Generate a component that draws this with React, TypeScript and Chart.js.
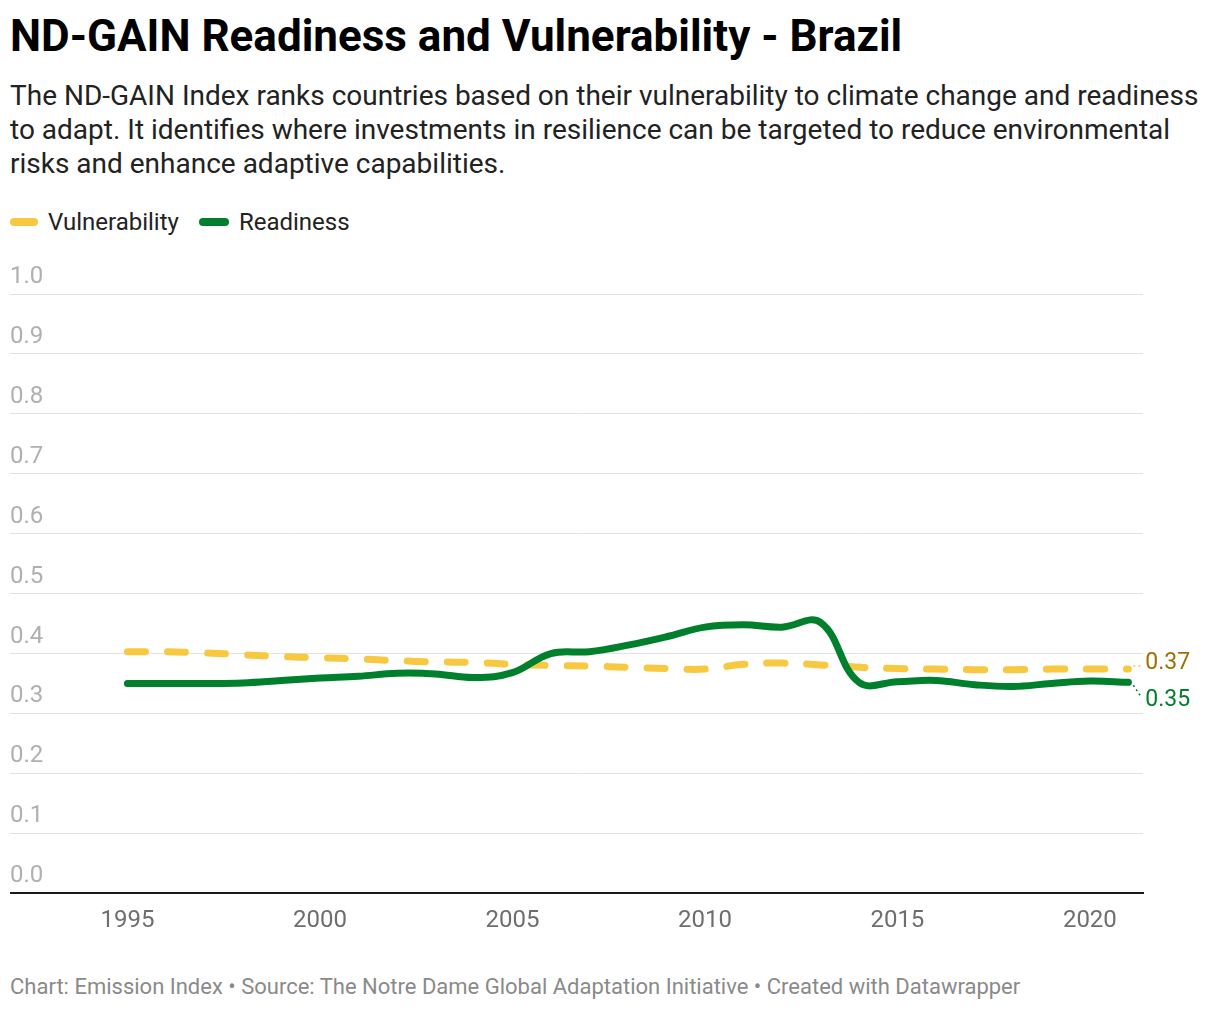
import React, { useEffect, useRef } from 'react';
import { Chart, registerables } from 'chart.js';

Chart.register(...registerables);

const years = [
    1995, 1996, 1997, 1998, 1999, 2000, 2001, 2002, 2003, 2004, 2005, 2006, 2007, 2008,
    2009, 2010, 2011, 2012, 2013, 2014, 2015, 2016, 2017, 2018, 2019, 2020, 2021,
];
const vulnerability = [
    0.403, 0.403, 0.401, 0.398, 0.395, 0.393, 0.391, 0.388, 0.386, 0.385, 0.382, 0.380, 0.379, 0.377,
    0.375, 0.374, 0.382, 0.384, 0.381, 0.377, 0.375, 0.374, 0.373, 0.373, 0.374, 0.374, 0.374,
];
const readiness = [
    0.350, 0.350, 0.350, 0.351, 0.355, 0.359, 0.362, 0.367, 0.366, 0.360, 0.368, 0.400, 0.403, 0.414,
    0.428, 0.444, 0.448, 0.444, 0.452, 0.352, 0.353, 0.355, 0.348, 0.345, 0.350, 0.354, 0.352,
];
const xTicks = [1995, 2000, 2005, 2010, 2015, 2020];

const YELLOW = '#f8c840';
const GREEN = '#007f2c';
const FONT = 'Roboto';

// value labels at the end of each line, with a little dotted connector
const endLabels = {
    id: 'endLabels',
    afterDatasetsDraw(chart: any) {
        const { ctx } = chart;
        const specs = [
            { index: 0, values: vulnerability, color: '#9c7200', line: YELLOW, shift: -6 },
            { index: 1, values: readiness, color: GREEN, line: GREEN, shift: 18 },
        ];
        ctx.save();
        specs.forEach((s) => {
            const pts = chart.getDatasetMeta(s.index).data;
            const last = pts[pts.length - 1];
            const v = s.values[s.values.length - 1];
            const lx = last.x + 17;
            const ly = last.y + s.shift;
            ctx.strokeStyle = s.line;
            ctx.lineWidth = 1.5;
            ctx.setLineDash([2, 3]);
            ctx.beginPath();
            ctx.moveTo(last.x + 5, last.y + Math.sign(s.shift) * 3);
            ctx.lineTo(lx - 4, ly - Math.sign(s.shift) * 3);
            ctx.stroke();
            ctx.setLineDash([]);
            ctx.fillStyle = s.color;
            ctx.font = `23px ${FONT}`;
            ctx.textAlign = 'left';
            ctx.textBaseline = 'middle';
            ctx.fillText(v.toFixed(2), lx, ly);
        });
        ctx.restore();
    },
};

const App: React.FC = () => {
    const chartRef = useRef<HTMLCanvasElement | null>(null);

    useEffect(() => {
        const ctx = chartRef.current?.getContext('2d');
        if (!ctx) return;

        const newChart = new Chart(ctx, {
            type: 'line',
            data: {
                datasets: [
                    {
                        label: 'Vulnerability',
                        data: vulnerability.map((v, i) => ({ x: years[i], y: v })),
                        borderColor: YELLOW,
                        borderWidth: 7,
                        borderDash: [18, 22],
                        borderCapStyle: 'round',
                        pointRadius: 0,
                        tension: 0.4,
                        order: 1,
                    },
                    {
                        label: 'Readiness',
                        data: readiness.map((v, i) => ({ x: years[i], y: v })),
                        borderColor: GREEN,
                        borderWidth: 7,
                        borderCapStyle: 'round',
                        pointRadius: 0,
                        tension: 0.4,
                        order: 0,
                    },
                ],
            },
            options: {
                responsive: false,
                animation: false,
                layout: { padding: { top: 44, right: 72, bottom: 2, left: 0 } },
                plugins: { legend: { display: false }, tooltip: { enabled: false } },
                scales: {
                    x: {
                        type: 'linear',
                        min: 1991.95,
                        max: 2021.38,
                        afterBuildTicks: (axis: any) => {
                            axis.ticks = xTicks.map((v) => ({ value: v }));
                        },
                        grid: { display: false, drawTicks: false },
                        border: { display: true, color: '#1a1a1a', width: 2 },
                        ticks: {
                            padding: 13,
                            maxRotation: 0,
                            autoSkip: false,
                            color: '#6e6e6e',
                            font: { family: FONT, size: 24 },
                            callback: (v: any) => String(v),
                        },
                    },
                    y: {
                        min: 0,
                        max: 1,
                        grid: { color: '#e2e2e2', lineWidth: 1, drawTicks: false },
                        border: { display: false },
                        ticks: {
                            stepSize: 0.1,
                            mirror: true,
                            padding: 0,
                            labelOffset: -17,
                            color: '#b0b0b0',
                            font: { family: FONT, size: 24 },
                            callback: (v: any) => Number(v).toFixed(1),
                        },
                    },
                },
            },
            plugins: [endLabels],
        });

        return () => {
            newChart.destroy();
        };
    }, []);

    const legendItem = (color: string, text: string, barWidth: number) => (
        <div style={{ display: 'flex', alignItems: 'center', marginRight: 20 }}>
            <span style={{ display: 'inline-block', width: barWidth, height: 8, borderRadius: 4, background: color, marginRight: 10 }} />
            <span>{text}</span>
        </div>
    );

    return (
        <div style={{ position: 'absolute', left: 0, top: 0, width: 1220, height: 1010, background: '#fff', fontFamily: FONT, color: '#1d1d1d' }}>
            <div style={{ position: 'absolute', left: 10, top: 10, fontSize: 44, lineHeight: '52px', fontWeight: 700, color: '#000', whiteSpace: 'nowrap' }}>
                ND-GAIN Readiness and Vulnerability - Brazil
            </div>
            <div style={{ position: 'absolute', left: 10, top: 79, fontSize: 28, lineHeight: '34px', color: '#222', whiteSpace: 'nowrap' }}>
                The ND-GAIN Index ranks countries based on their vulnerability to climate change and readiness<br />
                to adapt. It identifies where investments in resilience can be targeted to reduce environmental<br />
                risks and enhance adaptive capabilities.
            </div>
            <div style={{ position: 'absolute', left: 10, top: 207, display: 'flex', fontSize: 24, lineHeight: '30px', color: '#222' }}>
                {legendItem(YELLOW, 'Vulnerability', 28)}
                {legendItem(GREEN, 'Readiness', 30)}
            </div>
            <canvas ref={chartRef} width={1205} height={700} style={{ position: 'absolute', left: 10, top: 250 }} />
            <div style={{ position: 'absolute', left: 10, top: 973, fontSize: 22, lineHeight: '28px', color: '#8a8a8a', whiteSpace: 'nowrap' }}>
                Chart: Emission Index • Source: The Notre Dame Global Adaptation Initiative • Created with Datawrapper
            </div>
        </div>
    );
};

export default App;
